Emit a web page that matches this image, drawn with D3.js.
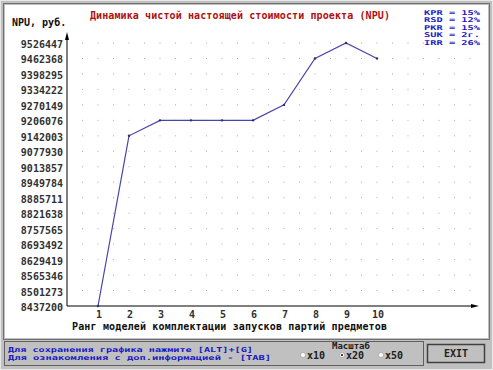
<!DOCTYPE html>
<html>
<head>
<meta charset="utf-8">
<script src="https://d3js.org/d3.v7.min.js"></script>
<style>
  body { margin: 0; background: #c0c0c0; }
  text { font-family: "DejaVu Sans Mono", monospace; font-weight: bold; }
</style>
</head>
<body>
<div id="container"></div>
<script>
// chart data
var ranks = [1, 2, 3, 4, 5, 6, 7, 8, 9, 10];
var npv = [8437200, 9142003, 9206076, 9206076, 9206076, 9206076, 9270149, 9462368, 9526447, 9462368];
var yTicks = [9526447, 9462368, 9398295, 9334222, 9270149, 9206076, 9142003, 9077930, 9013857,
              8949784, 8885711, 8821638, 8757565, 8693492, 8629419, 8565346, 8501273, 8437200];
var params = ["KPR = 15%", "RSD = 12%", "PKR = 15%", "SUK = 2г.", "IRR = 26%"];
var scales = ["x10", "x20", "x50"];

var width = 493, height = 370;

var svg = d3.select("#container").append("svg")
    .attr("width", width)
    .attr("height", height);

// window frame
svg.append("rect").attr("x", 0.5).attr("y", 0.5).attr("width", width - 1).attr("height", height - 1)
    .attr("fill", "#c0c0c0").attr("stroke", "#e8e8e8");
svg.append("rect").attr("x", 3.5).attr("y", 3.5).attr("width", 486).attr("height", 336)
    .attr("fill", "none").attr("stroke", "#707070");
svg.append("rect").attr("x", 5).attr("y", 5).attr("width", 483).attr("height", 333)
    .attr("fill", "#fff");

var x = d3.scaleLinear().domain([1, 10]).range([98, 377]);
var y = d3.scaleLinear().domain([8437200, 9526447]).range([306, 43]);

// dotted grid
var gx = d3.range(0.5, 13.01, 0.5);
var grid = svg.append("g").attr("fill", "#a8a8b8");
yTicks.slice(0, -1).forEach(function (v) {
  grid.selectAll(null).data(gx).join("rect")
      .attr("x", d => x(d) - 0.5)
      .attr("y", y(v) - 0.5)
      .attr("width", 1).attr("height", 1);
});

// axes
var ax = 67;
svg.append("line").attr("x1", ax).attr("x2", ax).attr("y1", y(8437200)).attr("y2", 36)
    .attr("stroke", "#000").attr("stroke-width", 1);
svg.append("path").attr("d", `M${ax},32 L${ax - 2},40 L${ax + 2},40 Z`).attr("fill", "#000");
svg.append("line").attr("x1", ax).attr("x2", 474).attr("y1", y(8437200)).attr("y2", y(8437200))
    .attr("stroke", "#000").attr("stroke-width", 1);
svg.append("path").attr("d", `M479,${y(8437200)} L471,${y(8437200) - 2} L471,${y(8437200) + 2} Z`).attr("fill", "#000");

// y tick labels
svg.append("g").attr("font-size", 10).attr("fill", "#303030").attr("text-anchor", "end")
  .selectAll("text").data(yTicks).join("text")
    .attr("x", 63)
    .attr("y", d => y(d) + 5)
    .text(d => d);

// x tick labels
svg.append("g").attr("font-size", 10).attr("fill", "#303030").attr("text-anchor", "middle")
  .selectAll("text").data(ranks).join("text")
    .attr("x", d => x(d) + 1)
    .attr("y", 318)
    .text(d => d);

// line
var line = d3.line().x((d, i) => x(ranks[i])).y(d => y(d));
svg.append("path").datum(npv)
    .attr("d", line)
    .attr("fill", "none")
    .attr("stroke", "#4a44b0")
    .attr("stroke-width", 1.2);
svg.append("g").selectAll("circle").data(npv).join("circle")
    .attr("cx", (d, i) => x(ranks[i]))
    .attr("cy", d => y(d))
    .attr("r", 1.2)
    .attr("fill", "#303060");

// titles
svg.append("text").attr("x", 90).attr("y", 19).attr("font-size", 10).attr("fill", "#b01010")
    .attr("textLength", 300)
    .text("Динамика чистой настоящей стоимости проекта (NPU)");
svg.append("text").attr("x", 12).attr("y", 26).attr("font-size", 10).attr("fill", "#101010")
    .text("NPU, руб.");
svg.append("text").attr("x", 72).attr("y", 330).attr("font-size", 10).attr("fill", "#101010")
    .attr("textLength", 315)
    .text("Ранг моделей комплектации запусков партий предметов");

// parameters box
svg.append("g").attr("font-size", 6.6).attr("fill", "#2020c0")
  .selectAll("text").data(params).join("text")
    .attr("x", 424)
    .attr("y", (d, i) => 14.5 + i * 7.6)
    .attr("textLength", 56)
    .attr("lengthAdjust", "spacingAndGlyphs")
    .text(d => d);

// bottom status panel
svg.append("rect").attr("x", 4.5).attr("y", 341.5).attr("width", 419).attr("height", 24)
    .attr("fill", "#c0c0c0").attr("stroke", "#606060");
svg.append("text").attr("x", 8).attr("y", 351.5).attr("font-size", 6.8).attr("fill", "#1818c0")
    .attr("textLength", 245).attr("lengthAdjust", "spacingAndGlyphs")
    .text("Для сохранения графика нажмите [ALT]+[G]");
svg.append("text").attr("x", 8).attr("y", 359.6).attr("font-size", 6.8).attr("fill", "#1818c0")
    .attr("textLength", 263).attr("lengthAdjust", "spacingAndGlyphs")
    .text("Для ознакомления с доп.информацией - [TAB]");

svg.append("text").attr("x", 332).attr("y", 349).attr("font-size", 9).attr("fill", "#202020")
    .text("Масштаб");
var rg = svg.append("g");
scales.forEach(function (s, i) {
  var cx = 303 + i * 39;
  rg.append("circle").attr("cx", cx).attr("cy", 355).attr("r", 2.5)
      .attr("fill", "#fff").attr("stroke", "#909090").attr("stroke-width", 0.6);
  if (s === "x20") rg.append("circle").attr("cx", cx).attr("cy", 355).attr("r", 1).attr("fill", "#000");
  rg.append("text").attr("x", cx + 4).attr("y", 359).attr("font-size", 10).attr("fill", "#202020").text(s);
});

// exit button
svg.append("rect").attr("x", 427.5).attr("y", 344.5).attr("width", 57).attr("height", 18)
    .attr("fill", "#c0c0c0").attr("stroke", "#404040").attr("stroke-width", 1.5);
svg.append("text").attr("x", 456).attr("y", 357).attr("font-size", 10).attr("fill", "#202020")
    .attr("text-anchor", "middle").text("EXIT");
</script>
</body>
</html>
